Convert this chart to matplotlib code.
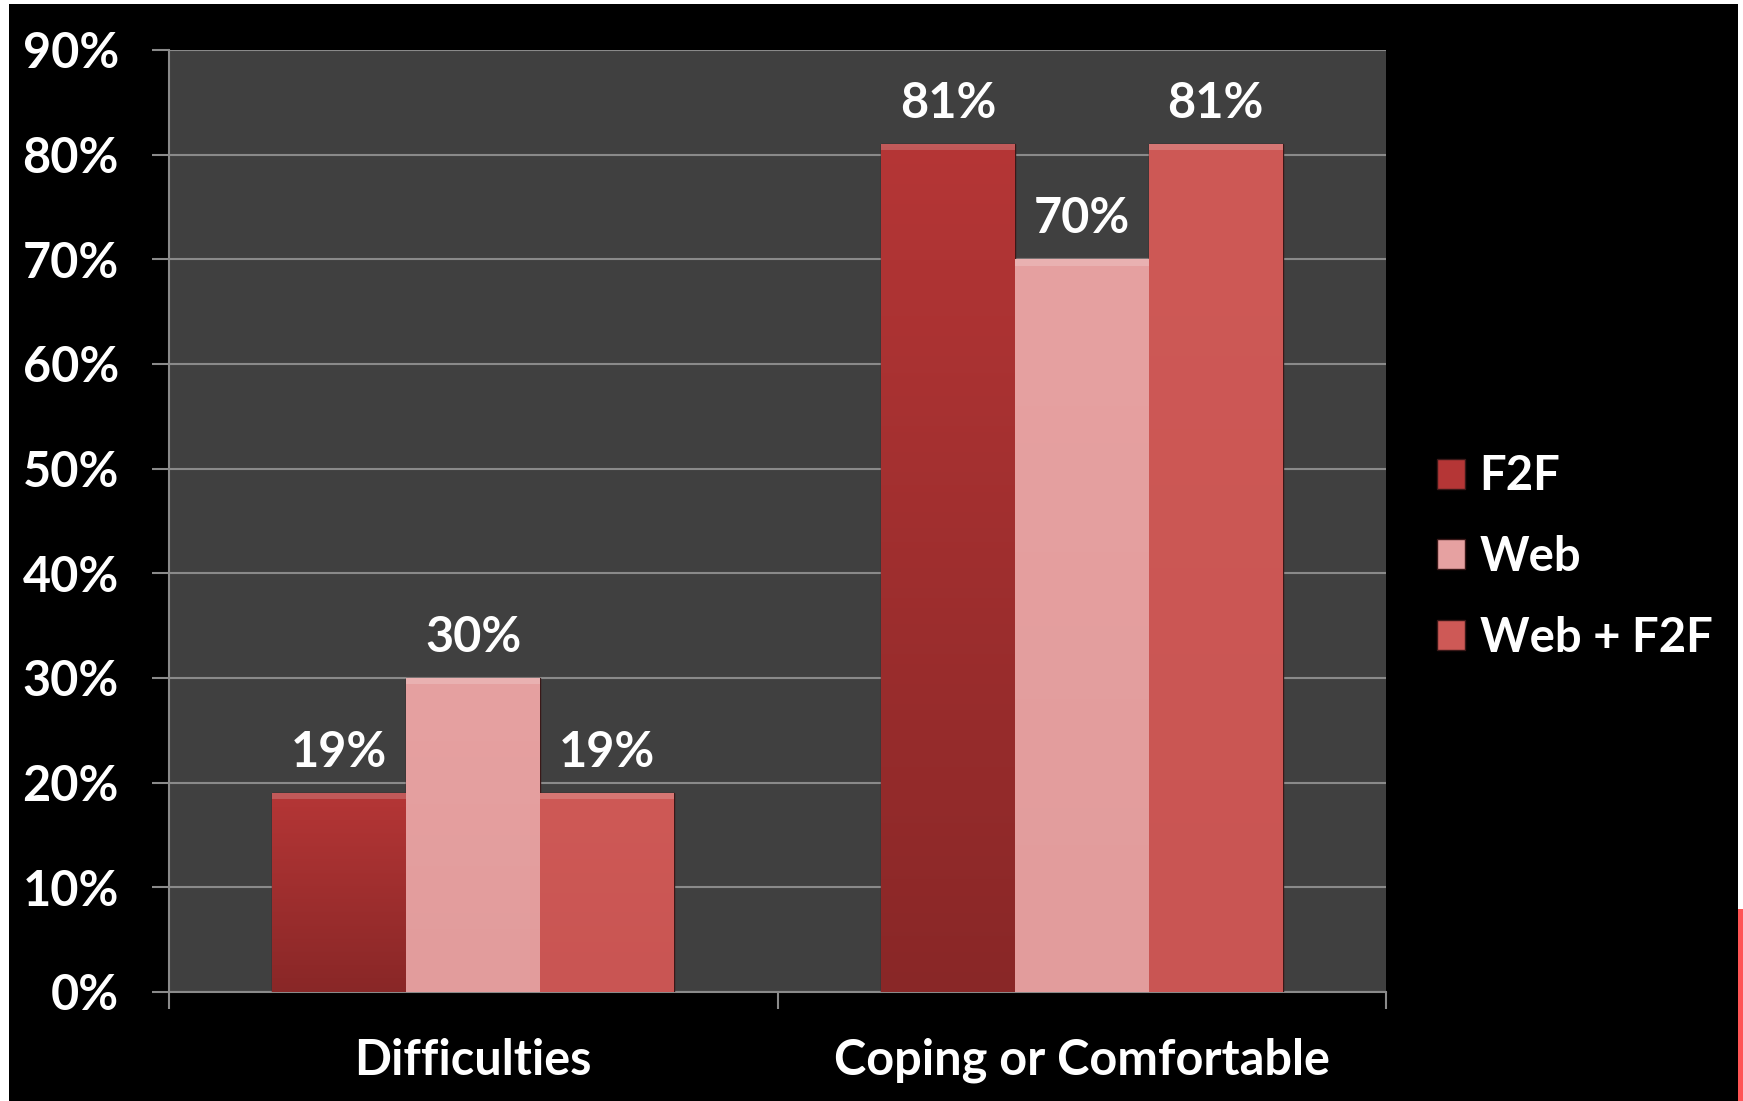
import matplotlib
matplotlib.use("Agg")
import matplotlib.pyplot as plt
import numpy as np
from matplotlib.patches import Rectangle
from matplotlib.ticker import PercentFormatter, FixedLocator

categories = ["Difficulties", "Coping or Comfortable"]
series = ["F2F", "Web", "Web + F2F"]
f2f = [19, 81]
web = [30, 70]
web_f2f = [19, 81]
yticks = [0, 10, 20, 30, 40, 50, 60, 70, 80, 90]

# top / bottom colours of each series (slight vertical gradient)
colors = [("#b53636", "#892727"), ("#e6a1a1", "#e29c9c"), ("#ce5956", "#c95553")]

plt.rcParams["font.family"] = ["Lato", "DejaVu Sans"]
plt.rcParams["font.weight"] = "bold"
fs = 35

fig = plt.figure(figsize=(17.43, 11.01), dpi=100, facecolor="black")
ax = fig.add_axes([169 / 1743, 109 / 1101, (1386 - 169) / 1743, (992 - 50) / 1101])
ax.set_facecolor("#404040")

x = np.arange(len(categories))
w = 0.22
vals = [f2f, web, web_f2f]
for i, (name, v, c) in enumerate(zip(series, vals, colors)):
    bars = ax.bar(x + (i - 1) * w, v, w, color=c[0], edgecolor="#3a1818",
                  linewidth=1.0, label=name, zorder=3)
    grad = np.linspace(0, 1, 256).reshape(-1, 1)
    cmap = matplotlib.colors.LinearSegmentedColormap.from_list("g", [c[1], c[0]])
    for b in bars:
        im = ax.imshow(grad, cmap=cmap, origin="lower", aspect="auto",
                       extent=[b.get_x(), b.get_x() + b.get_width(), 0, b.get_height()],
                       zorder=3.5)
        im.set_clip_path(b)
        # light bevel on the top edge
        ax.add_patch(Rectangle((b.get_x(), b.get_height() - 0.6), b.get_width(), 0.6,
                               facecolor="white", alpha=0.18, edgecolor="none", zorder=4))
    ax.bar_label(bars, labels=[f"{val}%" for val in v], padding=13, color="white",
                 fontsize=fs, fontweight="bold", zorder=5)

ax.set_xlim(-0.5, 1.5)
ax.set_ylim(0, 90)
ax.yaxis.set_major_locator(FixedLocator(yticks))
ax.yaxis.set_major_formatter(PercentFormatter(decimals=0))
ax.grid(axis="y", color="#8a8a8a", linewidth=1.5, zorder=1)
ax.set_axisbelow(True)

ax.set_xticks(x)
ax.set_xticklabels(categories)
ax.set_xticks([-0.5, 0.5, 1.5], minor=True)
ax.tick_params(axis="x", which="major", length=0, pad=33, labelsize=fs, labelcolor="white")
ax.tick_params(axis="x", which="minor", length=12, width=1.5, color="#8a8a8a")
ax.tick_params(axis="y", length=12, width=1.5, color="#8a8a8a", pad=24,
               labelsize=fs, labelcolor="white")

for s in ["top", "right"]:
    ax.spines[s].set_visible(False)
for s in ["left", "bottom"]:
    ax.spines[s].set_color("#8a8a8a")
    ax.spines[s].set_linewidth(1.5)

leg = ax.legend(loc="center left", bbox_to_anchor=(1437 / 1743, 544 / 1101),
                bbox_transform=fig.transFigure, frameon=False, fontsize=34,
                handlelength=0.6, handleheight=0.6, handletextpad=0.3,
                labelspacing=0.78, borderpad=0, borderaxespad=0)
for t in leg.get_texts():
    t.set_color("white")
    t.set_fontweight("bold")

# white / red slivers at the picture border
fig.patches.append(Rectangle((0, 0), 9 / 1743, 1, transform=fig.transFigure,
                             facecolor="white", edgecolor="none"))
fig.patches.append(Rectangle((0, 1 - 4 / 1101), 1, 4 / 1101, transform=fig.transFigure,
                             facecolor="white", edgecolor="none"))
fig.patches.append(Rectangle((1738 / 1743, 192 / 1101), 5 / 1743, 1, transform=fig.transFigure,
                             facecolor="white", edgecolor="none"))
fig.patches.append(Rectangle((1738 / 1743, 0), 5 / 1743, 192 / 1101, transform=fig.transFigure,
                             facecolor="#ff5555", edgecolor="none"))

fig.savefig("out.png", dpi=100, facecolor="black")
